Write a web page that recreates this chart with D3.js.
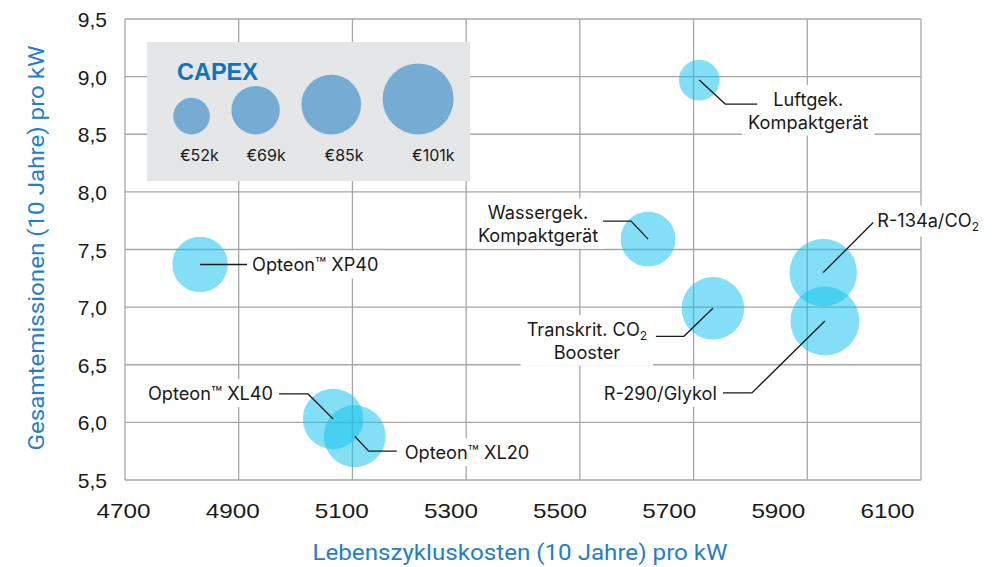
<!DOCTYPE html>
<html><head><meta charset="utf-8">
<script src="https://cdn.jsdelivr.net/npm/d3@7"></script>
<style>
html,body{margin:0;padding:0;background:#fff;}
svg{display:block;}
</style>
</head><body>
<svg id="chart" width="999" height="567"></svg>
<script>
// ---- data ----
const names = ["Opteon™ XP40", "Luftgek. Kompaktgerät", "Wassergek. Kompaktgerät", "Transkrit. CO₂ Booster", "R-134a/CO₂", "R-290/Glykol", "Opteon™ XL40", "Opteon™ XL20"];
const labelLines = [["Opteon™ XP40"], ["Luftgek.", "Kompaktgerät"], ["Wassergek.", "Kompaktgerät"], ["Transkrit. CO₂", "Booster"], ["R-134a/CO₂"], ["R-290/Glykol"], ["Opteon™ XL40"], ["Opteon™ XL20"]];
const lifecycleCost = [4832, 5710, 5620, 5734, 5928, 5931, 5066, 5104];
const emissions = [7.37, 8.97, 7.59, 6.99, 7.30, 6.88, 6.03, 5.88];
const capex = [79, 58, 78, 89, 96, 98, 86, 88];
const legendCapex = [52, 69, 85, 101];
const legendLabels = ["€52k", "€69k", "€85k", "€101k"];
const xTicks = [4700, 4900, 5100, 5300, 5500, 5700, 5900, 6100];
const yTicks = [5.5, 6.0, 6.5, 7.0, 7.5, 8.0, 8.5, 9.0, 9.5];
const xTitle = "Lebenszykluskosten (10 Jahre) pro kW";
const yTitle = "Gesamtemissionen (10 Jahre) pro kW";
const legendTitle = "CAPEX";

// ---- layout (leader lines relative to bubble centre) ----
const leaderLayout = [
  {pts: [[47, 0]], tx: 52, ty: 7, anchor: "start"},
  {pts: [[26, 24], [58, 24]], tx: 109, ty: 26, anchor: "middle"},
  {pts: [[-17, -18], [-45, -18]], tx: -110, ty: -20, anchor: "middle"},
  {pts: [[-29, 28], [-57, 28]], tx: -126, ty: 28, anchor: "middle"},
  {pts: [[50, -50]], tx: 54, ty: -46, anchor: "start"},
  {pts: [[-73, 72], [-102, 72]], tx: -108, ty: 79, anchor: "end"},
  {pts: [[-25, -25], [-54, -25]], tx: -60, ty: -19, anchor: "end"},
  {pts: [[14, 15], [42, 15]], tx: 50, ty: 23, anchor: "start"}
];

const svg = d3.select("#chart");
const L = 125, R = 921, T = 19, B = 480;
const x = d3.scaleLinear().domain([4700, 6100]).range([L, R]);
const xLab = d3.scaleLinear().domain([4700, 6100]).range([123, 887]);
const y = d3.scaleLinear().domain([5.5, 9.5]).range([B, T]);
const r = d3.scaleLinear().domain([0, 101]).range([0, 35.5]);

const gridColor = "#a6a6a6";
const labelFont = "Inter, 'Noto Sans', sans-serif";

// grid
const grid = svg.append("g");
grid.selectAll("line.v").data(xTicks).join("line")
  .attr("x1", d => x(d)).attr("x2", d => x(d)).attr("y1", T).attr("y2", B)
  .attr("stroke", gridColor).attr("stroke-width", 1.3);
grid.selectAll("line.h").data(yTicks).join("line")
  .attr("y1", d => y(d)).attr("y2", d => y(d)).attr("x1", L).attr("x2", R)
  .attr("stroke", gridColor).attr("stroke-width", 1.3);

// axes labels
const xAxis = svg.append("g").attr("transform", "translate(0,518)")
  .call(d3.axisBottom(xLab).tickValues(xTicks).tickSize(0).tickFormat(d3.format("d")));
xAxis.select(".domain").remove();
xAxis.selectAll("text").attr("y", 0).attr("dy", 0)
  .attr("font-family", "'Liberation Sans', Arial, sans-serif").attr("font-size", 21)
  .attr("fill", "#1a1a1a").attr("textLength", 54).attr("lengthAdjust", "spacingAndGlyphs");

const yAxis = svg.append("g").attr("transform", "translate(107,0)")
  .call(d3.axisLeft(y).tickValues(yTicks).tickSize(0).tickFormat(d => d3.format(".1f")(d).replace(".", ",")));
yAxis.select(".domain").remove();
yAxis.selectAll("text").attr("x", 0).attr("dy", "0.36em")
  .attr("font-family", "'Liberation Sans', Arial, sans-serif").attr("font-size", 21)
  .attr("fill", "#1a1a1a");

// axis titles
const titleColor = "#1f80c6";
svg.append("text").attr("x", 520).attr("y", 560).attr("text-anchor", "middle")
  .attr("font-family", "'Liberation Sans Narrow', Roboto, sans-serif").attr("font-size", 22)
  .attr("fill", titleColor).attr("textLength", 415).attr("lengthAdjust", "spacingAndGlyphs")
  .text(xTitle);
svg.append("text").attr("transform", "translate(44,248) rotate(-90)").attr("text-anchor", "middle")
  .attr("font-family", "'Liberation Sans Narrow', Roboto, sans-serif").attr("font-size", 22)
  .attr("fill", titleColor).attr("textLength", 405).attr("lengthAdjust", "spacingAndGlyphs")
  .text(yTitle);

// legend
const lg = svg.append("g");
lg.append("rect").attr("x", 147).attr("y", 42).attr("width", 323).attr("height", 139).attr("fill", "#e5e6e8");
lg.append("text").attr("x", 177).attr("y", 80).attr("font-family", "'Liberation Sans', Arial, sans-serif")
  .attr("font-weight", "bold").attr("font-size", 23.5).attr("fill", "#0f74be").text(legendTitle);
let cx = 173.3;
const legendBottom = 134.4, legendGap = 21.5;
legendCapex.forEach((v, i) => {
  const rr = r(v);
  const c = cx + rr;
  lg.append("circle").attr("cx", c).attr("cy", legendBottom - rr).attr("r", rr).attr("fill", "#76acd3");
  lg.append("text").attr("x", c + 0.43 * rr).attr("y", 161).attr("text-anchor", "middle")
    .attr("font-family", labelFont).attr("font-size", 16).attr("fill", "#1a1a1a").text(legendLabels[i]);
  cx = c + rr + legendGap;
});

// label backgrounds, bubbles, leaders, texts
const bgLayer = svg.append("g");
const bubbleLayer = svg.append("g");
const leaderLayer = svg.append("g");
const textLayer = svg.append("g");

function addLine(g, str, xx, yy, anchor) {
  const t = g.append("text").attr("x", xx).attr("y", yy).attr("text-anchor", anchor)
    .attr("font-family", labelFont).attr("font-size", 18.2).attr("fill", "#1a1a1a");
  const parts = str.split("₂");
  parts.forEach((p, k) => {
    if (p.length) t.append("tspan").attr("dy", k > 0 ? -4 : null).text(p);
    if (k < parts.length - 1) t.append("tspan").attr("font-size", 12).attr("dy", 4).text("2");
  });
  return t;
}

names.forEach((n, i) => {
  const px = x(lifecycleCost[i]), py = y(emissions[i]);
  bubbleLayer.append("circle").attr("cx", px).attr("cy", py).attr("r", r(capex[i]))
    .attr("fill", "rgb(18,195,236)").attr("fill-opacity", 0.53);
  const lay = leaderLayout[i];
  const pts = [[px, py]].concat(lay.pts.map(p => [px + p[0], py + p[1]]));
  leaderLayer.append("path").attr("d", d3.line()(pts)).attr("fill", "none")
    .attr("stroke", "#1a1a1a").attr("stroke-width", 1.3);
  const g = textLayer.append("g");
  labelLines[i].forEach((ln, k) => addLine(g, ln, px + lay.tx, py + lay.ty + k * 22.5, lay.anchor));
  const bb = g.node().getBBox();
  bgLayer.append("rect").attr("x", bb.x - 6).attr("y", bb.y - 3).attr("width", bb.width + 12)
    .attr("height", bb.height + 6).attr("fill", "#fff");
});
</script>
</body></html>
